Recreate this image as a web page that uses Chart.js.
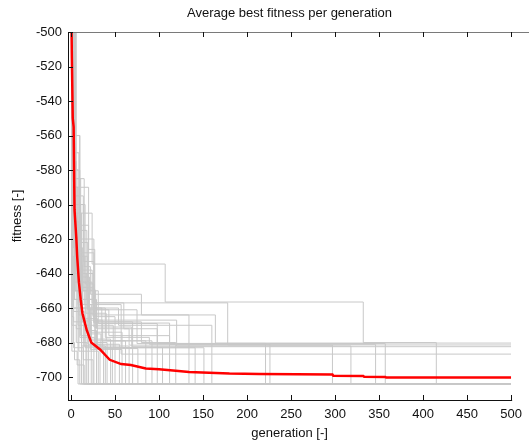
<!DOCTYPE html>
<html>
<head>
<meta charset="utf-8">
<script src="https://cdn.jsdelivr.net/npm/chart.js@4.4.1/dist/chart.umd.min.js"></script>
<style>
  html, body { margin: 0; padding: 0; background: #fff; }
</style>
</head>
<body>
<canvas id="fit_graph" width="529" height="443"></canvas>
<script>
const chartTitle = 'Average best fitness per generation';

// tick labels
const xTicks = [0, 50, 100, 150, 200, 250, 300, 350, 400, 450, 500];
const yTicks = [-500, -520, -540, -560, -580, -600, -620, -640, -660, -680, -700];

// best fitness of each run: [generation, fitness] at every improvement
const runs = [
  [[0,-450],[1,-520],[3,-600],[5,-650],[8,-704]],
  [[0,-460],[1,-680],[4,-690],[10,-704]],
  [[0,-440],[1,-560],[2,-620],[6,-672],[12,-704]],
  [[0,-470],[1,-665],[3,-683],[14,-704]],
  [[0,-470],[1,-685],[7,-693],[15,-704]],
  [[0,-455],[2,-540],[4,-610],[9,-660],[17,-704]],
  [[0,-470],[1,-670],[6,-680],[18,-704]],
  [[0,-465],[1,-600],[5,-640],[11,-676],[20,-704]],
  [[0,-445],[6,-580],[8,-625],[13,-668],[23,-704]],
  [[0,-450],[4,-620],[9,-664],[14,-690],[25,-704]],
  [[0,-475],[1,-640],[3,-662],[15,-682],[26,-704]],
  [[0,-450],[3,-590],[7,-630],[16,-673],[29,-704]],
  [[0,-455],[1,-610],[4,-655],[9,-685],[31,-704]],
  [[0,-460],[1,-530],[4,-595],[10,-648],[19,-681],[33,-704]],
  [[0,-480],[2,-650],[8,-670],[22,-684],[37,-704]],
  [[0,-445],[2,-585],[5,-640],[12,-682],[39,-704]],
  [[0,-440],[2,-570],[9,-615],[18,-655],[27,-680],[41,-704]],
  [[0,-465],[1,-620],[7,-645],[21,-678],[45,-704]],
  [[0,-460],[1,-630],[3,-668],[16,-683],[47,-704]],
  [[0,-455],[3,-605],[12,-640],[25,-665],[50,-704]],
  [[0,-470],[2,-600],[14,-650],[28,-681],[55,-704]],
  [[0,-450],[2,-605],[7,-650],[20,-675],[34,-684],[58,-704]],
  [[0,-450],[1,-575],[6,-612],[20,-660],[35,-679],[62,-704]],
  [[0,-465],[1,-590],[5,-635],[13,-666],[30,-682],[66,-704]],
  [[0,-460],[4,-585],[11,-620],[26,-668],[70,-704]],
  [[0,-475],[2,-660],[10,-677],[27,-683.5],[76,-704]],
  [[0,-445],[2,-640],[17,-663],[40,-679],[85,-704]],
  [[0,-455],[3,-625],[8,-658],[23,-679],[92,-704]],
  [[0,-475],[3,-615],[10,-638],[24,-657],[60,-672],[98,-704]],
  [[0,-440],[1,-645],[12,-667],[36,-682.8],[104,-704]],
  [[0,-450],[1,-590],[8,-630],[19,-661],[43,-676],[112,-704]],
  [[0,-465],[2,-610],[9,-648],[26,-668],[80,-680],[119,-704]],
  [[0,-455],[5,-585],[15,-636],[22,-652],[80,-664],[134,-704]],
  [[0,-460],[2,-600],[11,-642],[21,-670],[48,-683],[141,-704]],
  [[0,-470],[1,-660],[22,-674],[58,-683],[151,-704]],
  [[0,-440],[3,-560],[10,-628],[26,-660],[54,-670],[160,-704]],
  [[0,-460],[2,-650],[31,-669],[98,-680.5],[221,-704]],
  [[0,-450],[4,-600],[16,-646],[26,-668.7],[112,-681],[226,-704]],
  [[0,-470],[2,-625],[12,-655],[29,-672],[66,-681.5],[297,-704]],
  [[0,-455],[3,-580],[10,-622],[19,-649],[27,-667],[120,-682],[318,-704]],
  [[0,-465],[1,-640],[18,-660],[39,-677],[89,-681],[346,-704]],
  [[0,-445],[2,-595],[14,-633],[26,-661],[75,-680.6],[357,-704]],
  [[0,-480],[5,-560],[10,-605],[24,-634.5],[107,-656.5],[332,-680],[415,-704]],
  [[0,-460],[2,-615],[11,-645],[24,-664],[164,-680.3]],
  [[0,-470],[3,-590],[20,-626],[27,-657],[178,-681.4]],
  [[0,-450],[1,-655],[26,-671],[69,-682.4]],
  [[0,-475],[2,-630],[15,-658],[57,-686.7]]
];

// average over runs (red)
const avgGen = [0, 1, 2, 3, 4, 5, 6, 7, 9, 11, 13, 18, 23, 33, 44, 57, 68, 85, 100, 119, 134, 180, 214, 297, 298, 332, 333, 357, 358, 500];
const avgFit = [-470, -515, -550, -555, -603, -611, -619, -630, -645, -655, -663, -673, -680, -684, -690, -692.5, -693, -695, -695.5, -696.4, -697, -698, -698.3, -698.5, -699.2, -699.4, -699.8, -699.9, -700.3, -700.3];

const lastGen = 500;

const datasets = runs.map(run => {
  const pts = run.map(p => ({ x: p[0], y: p[1] }));
  pts.push({ x: lastGen, y: run[run.length - 1][1] });
  return {
    data: pts,
    borderColor: '#c8c8c8',
    borderWidth: 1,
    pointRadius: 0,
    stepped: true,
    order: 2
  };
});

datasets.push({
  data: avgGen.map((g, i) => ({ x: g, y: avgFit[i] })),
  borderColor: '#ff0000',
  borderWidth: 2.5,
  pointRadius: 0,
  tension: 0,
  order: 1
});

const font = { family: '"Liberation Sans", Arial, sans-serif', size: 13 };

// axis box with inward ticks (left, bottom, top) + title over the plot area
const axesPlugin = {
  id: 'axes',
  afterDatasetsDraw(chart) {
    const { ctx, chartArea: a, scales: { x, y } } = chart;
    ctx.save();
    ctx.lineWidth = 1;
    ctx.strokeStyle = '#7a7a7a';
    ctx.beginPath();
    ctx.moveTo(a.left, a.top + 0.5);
    ctx.lineTo(chart.width, a.top + 0.5);
    ctx.stroke();

    ctx.strokeStyle = '#111';
    ctx.beginPath();
    ctx.moveTo(a.left + 0.5, a.top);
    ctx.lineTo(a.left + 0.5, a.bottom + 1);
    ctx.moveTo(a.left, a.bottom + 0.5);
    ctx.lineTo(a.right + 1, a.bottom + 0.5);
    yTicks.forEach(v => {
      const py = Math.round(y.getPixelForValue(v)) + 0.5;
      ctx.moveTo(a.left, py);
      ctx.lineTo(a.left + 5, py);
    });
    xTicks.forEach(v => {
      const px = Math.round(x.getPixelForValue(v)) + 0.5;
      ctx.moveTo(px, a.bottom);
      ctx.lineTo(px, a.bottom - 5);
      ctx.moveTo(px, a.top);
      ctx.lineTo(px, a.top + 5);
    });
    ctx.stroke();

    ctx.fillStyle = '#111';
    ctx.font = font.size + 'px ' + font.family;
    ctx.textAlign = 'center';
    ctx.textBaseline = 'middle';
    ctx.fillText(chartTitle, (a.left + a.right) / 2, 13);
    ctx.restore();
  }
};

const ctx = document.getElementById('fit_graph').getContext('2d');
const chart = new Chart(ctx, {
  type: 'line',
  data: { datasets },
  options: {
    responsive: false,
    animation: false,
    layout: { padding: { left: 0, right: 15, top: 32, bottom: 0 } },
    plugins: {
      legend: { display: false },
      tooltip: { enabled: false },
      title: { display: false }
    },
    scales: {
      x: {
        type: 'linear',
        min: -3.4,
        max: 500,
        grid: { display: false, drawTicks: false },
        border: { display: false },
        afterBuildTicks: s => { s.ticks = xTicks.map(v => ({ value: v })); },
        afterFit: s => { s.height = 43; },
        ticks: { color: '#111', font, padding: 7, maxRotation: 0 },
        title: {
          display: true,
          text: 'generation [-]',
          color: '#111',
          font,
          padding: { top: 0, bottom: 2 }
        }
      },
      y: {
        type: 'linear',
        min: -713.3,
        max: -500,
        grid: { display: false, drawTicks: false },
        border: { display: false },
        afterBuildTicks: s => { s.ticks = yTicks.map(v => ({ value: v })); },
        afterFit: s => { s.width = 68; },
        ticks: { color: '#111', font, padding: 6 },
        title: {
          display: true,
          text: 'fitness [-]',
          color: '#111',
          font,
          padding: { top: 10, bottom: 0 }
        }
      }
    }
  },
  plugins: [axesPlugin]
});
</script>
</body>
</html>
